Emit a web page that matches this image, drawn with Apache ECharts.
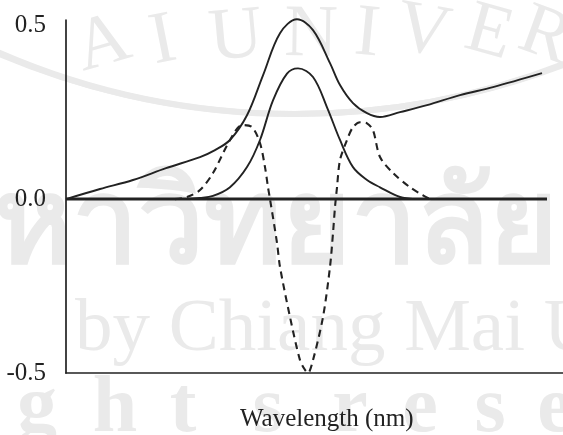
<!DOCTYPE html>
<html>
<head>
<meta charset="utf-8">
<script src="https://cdn.jsdelivr.net/npm/echarts@6/dist/echarts.min.js"></script>
<style>
  html, body { margin: 0; padding: 0; background: #ffffff; }
  #chart { width: 563px; height: 435px; }
</style>
</head>
<body>
<div id="chart"></div>
<script>
// ---- data -------------------------------------------------------------
const yTicks = [-0.5, 0.0, 0.5];
const xTitle = 'Wavelength (nm)';

// wavelength positions (relative units along the axis)
// composite spectrum: sloping background plus the absorption band
const sumX = [0, 34, 67, 100, 134, 149, 164, 181, 197, 214, 231, 247, 264, 274, 287, 301, 314, 334, 361, 394, 427, 476];
const sumY = [0.0, 0.029, 0.055, 0.089, 0.121, 0.141, 0.170, 0.241, 0.356, 0.477, 0.517, 0.486, 0.391, 0.328, 0.276, 0.247, 0.236, 0.250, 0.270, 0.299, 0.322, 0.362];

// isolated absorption band
const bandX = [119, 134, 147, 164, 181, 194, 207, 221, 232, 247, 261, 274, 287, 301, 314, 334, 349];
const bandY = [0.0, 0.003, 0.009, 0.034, 0.092, 0.170, 0.284, 0.361, 0.376, 0.351, 0.264, 0.170, 0.092, 0.055, 0.034, 0.006, 0.0];

// second-derivative trace
const derivX = [109, 121, 134, 147, 164, 176, 186, 194, 199, 202, 204, 211, 214, 224, 234, 239, 242, 247, 257, 264, 267, 269, 271, 274, 281, 287, 294, 301, 307, 314, 327, 344, 357, 364];
const derivY = [0.0, 0.006, 0.026, 0.075, 0.170, 0.213, 0.207, 0.161, 0.092, 0.034, 0.0, -0.126, -0.195, -0.339, -0.463, -0.491, -0.500, -0.463, -0.339, -0.195, -0.098, -0.023, 0.034, 0.112, 0.170, 0.207, 0.221, 0.218, 0.198, 0.121, 0.075, 0.034, 0.011, 0.0];

// zero reference line extent
const zeroX = [0, 481];
const zeroY = [0, 0];

// ---- helpers ----------------------------------------------------------
const pairs = (xs, ys) => xs.map((x, i) => [x, ys[i]]);
const ink = '#222222';
const serif = '"Liberation Serif", "Times New Roman", serif';
const wm = '#eaeaea';

// faint university watermark behind the plot
const wmLetters = [
  { ch: 'A', x: 103, y: 45 }, { ch: 'I', x: 163, y: 42 },
  { ch: 'U', x: 236, y: 38 }, { ch: 'N', x: 311, y: 36 },
  { ch: 'I', x: 367, y: 35 }, { ch: 'V', x: 423, y: 33 },
  { ch: 'E', x: 489, y: 34 }, { ch: 'R', x: 545, y: 37 }
];
const watermark = [];
wmLetters.forEach(l => {
  watermark.push({
    type: 'text', x: l.x, y: l.y, rotation: -(l.x - 300) / 700, z: -10, silent: true,
    style: { text: l.ch, font: '74px ' + serif, fill: wm, textAlign: 'center', textVerticalAlign: 'middle' }
  });
});
[757, 745].forEach(r => {
  watermark.push({
    type: 'arc', z: -10, silent: true,
    shape: { cx: 295, cy: 114 - r, r: r, startAngle: Math.PI / 2 - 0.45, endAngle: Math.PI / 2 + 0.45 },
    style: { stroke: wm, lineWidth: 6, fill: null }
  });
});
watermark.push({
  type: 'text', x: -84, y: 228, z: -10, silent: true,
  style: { text: 'มหาวิทยาลัยเชียงใหม่', font: 'bold 118px "Noto Sans", sans-serif', fill: wm, textVerticalAlign: 'middle' }
});
watermark.push({
  type: 'text', x: 75, y: 330, z: -10, silent: true,
  style: { text: 'by Chiang Mai University', font: '75px ' + serif, fill: wm, textVerticalAlign: 'middle' }
});
const wmTail = [
  { ch: 'g', x: 37 }, { ch: 'h', x: 115 }, { ch: 't', x: 183 }, { ch: 's', x: 268 },
  { ch: 'r', x: 350 }, { ch: 'e', x: 420 }, { ch: 's', x: 490 }, { ch: 'e', x: 555 }
];
wmTail.forEach(l => {
  watermark.push({
    type: 'text', x: l.x, y: 410, z: -10, silent: true,
    style: { text: l.ch, font: 'bold 80px ' + serif, fill: wm, textAlign: 'center', textVerticalAlign: 'middle' }
  });
});

const lineSeries = (name, data, style, smooth) => ({
  name, type: 'line', data, showSymbol: false, clip: false,
  smooth: smooth, lineStyle: style, silent: true, z: 3
});

const chart = echarts.init(document.getElementById('chart'), null, { renderer: 'canvas' });
chart.setOption({
  animation: false,
  backgroundColor: '#ffffff',
  grid: { left: 66, right: 0, top: 20, bottom: 62 },
  xAxis: {
    type: 'value', min: 0, max: 497,
    axisLine: { show: true, onZero: false, lineStyle: { color: ink, width: 1.7 } },
    axisTick: { show: false }, axisLabel: { show: false }, splitLine: { show: false }
  },
  yAxis: {
    type: 'value', min: -0.5, max: 0.515, interval: 0.5,
    axisLine: { show: true, lineStyle: { color: ink, width: 1.7 } },
    axisTick: { show: false },
    splitLine: { show: false },
    axisLabel: {
      showMaxLabel: false, margin: 20, color: ink,
      fontFamily: '"Liberation Serif", "Times New Roman", serif', fontSize: 25,
      formatter: v => yTicks.some(t => Math.abs(t - v) < 1e-9) ? v.toFixed(1) : ''
    }
  },
  graphic: watermark.concat([{
    type: 'text', x: 240, y: 419, z: 5, silent: true,
    style: { text: xTitle, font: '25px ' + serif, fill: ink, textVerticalAlign: 'middle' }
  }]),
  series: [
    lineSeries('zero', pairs(zeroX, zeroY), { color: ink, width: 3 }, false),
    lineSeries('composite', pairs(sumX, sumY), { color: ink, width: 1.9 }, 0.35),
    lineSeries('band', pairs(bandX, bandY), { color: ink, width: 1.9 }, 0.35),
    lineSeries('second derivative', pairs(derivX, derivY), { color: ink, width: 2.1, type: [7, 5] }, 0.3)
  ]
});
</script>
</body>
</html>
